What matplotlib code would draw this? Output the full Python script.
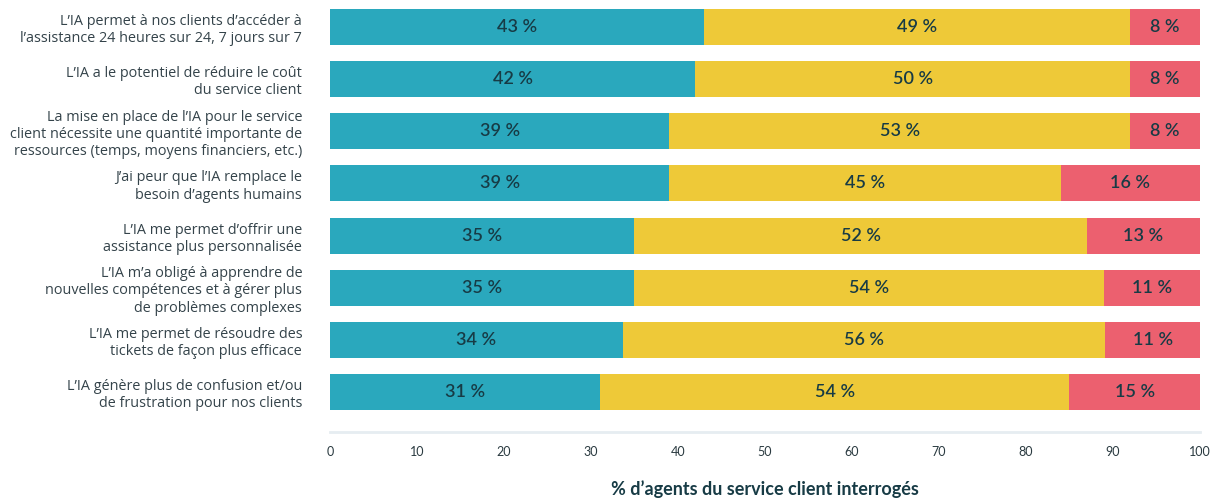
import matplotlib.pyplot as plt
import numpy as np

plt.rcParams['font.family'] = ['Lato', 'DejaVu Sans']

labels = [
    "L\u2019IA permet à nos clients d\u2019accéder à\nl\u2019assistance 24 heures sur 24, 7 jours sur 7",
    "L\u2019IA a le potentiel de réduire le coût\ndu service client",
    "La mise en place de l\u2019IA pour le service\nclient nécessite une quantité importante de\nressources (temps, moyens financiers, etc.)",
    "J\u2019ai peur que l\u2019IA remplace le\nbesoin d\u2019agents humains",
    "L\u2019IA me permet d\u2019offrir une\nassistance plus personnalisée",
    "L\u2019IA m\u2019a obligé à apprendre de\nnouvelles compétences et à gérer plus\nde problèmes complexes",
    "L\u2019IA me permet de résoudre des\ntickets de façon plus efficace",
    "L\u2019IA génère plus de confusion et/ou\nde frustration pour nos clients",
]
teal_vals = [43, 42, 39, 39, 35, 35, 34, 31]
yellow_vals = [49, 50, 53, 45, 52, 54, 56, 54]
red_vals = [8, 8, 8, 16, 13, 11, 11, 15]

colors = ['#2AA8BD', '#EEC938', '#EC606F']

fig = plt.figure(figsize=(12.17, 5.01), dpi=100)
ax = fig.add_axes([330 / 1217, 1 - 432 / 501, 870 / 1217, 423 / 501])

y = np.arange(len(labels))
series = np.array([teal_vals, yellow_vals, red_vals], dtype=float)
widths = series / series.sum(axis=0) * 100  # rows rounded to 101 get rescaled
left = np.zeros(len(labels))
for vals, w, c in zip(series, widths, colors):
    ax.barh(y, w, left=left, height=0.69, color=c)
    for yi, l, v, wi in zip(y, left, vals, w):
        ax.text(l + wi / 2, yi, f"{int(v)} %", ha='center', va='center',
                fontsize=13, fontweight='semibold', color='#173B45')
    left = left + w

ax.set_xlim(0, 100)
ax.set_ylim(7.767, -0.345)
ax.set_yticks(y)
ax.set_yticklabels(labels, fontsize=10.4, color='#34434A', linespacing=1.2,
                   family=['Open Sans', 'DejaVu Sans'])
ax.set_xticks(range(0, 101, 10))
ax.tick_params(axis='y', length=0, pad=20)
ax.tick_params(axis='x', length=0, pad=10, labelsize=9, labelcolor='#2A3A40')
for s in ['top', 'right', 'left']:
    ax.spines[s].set_visible(False)
ax.spines['bottom'].set_color('#E6EDF1')
ax.spines['bottom'].set_linewidth(2)
ax.set_xlabel("% d\u2019agents du service client interrogés", fontsize=13,
              fontweight='bold', color='#173B45', labelpad=16)

fig.savefig('out.png', dpi=100)
